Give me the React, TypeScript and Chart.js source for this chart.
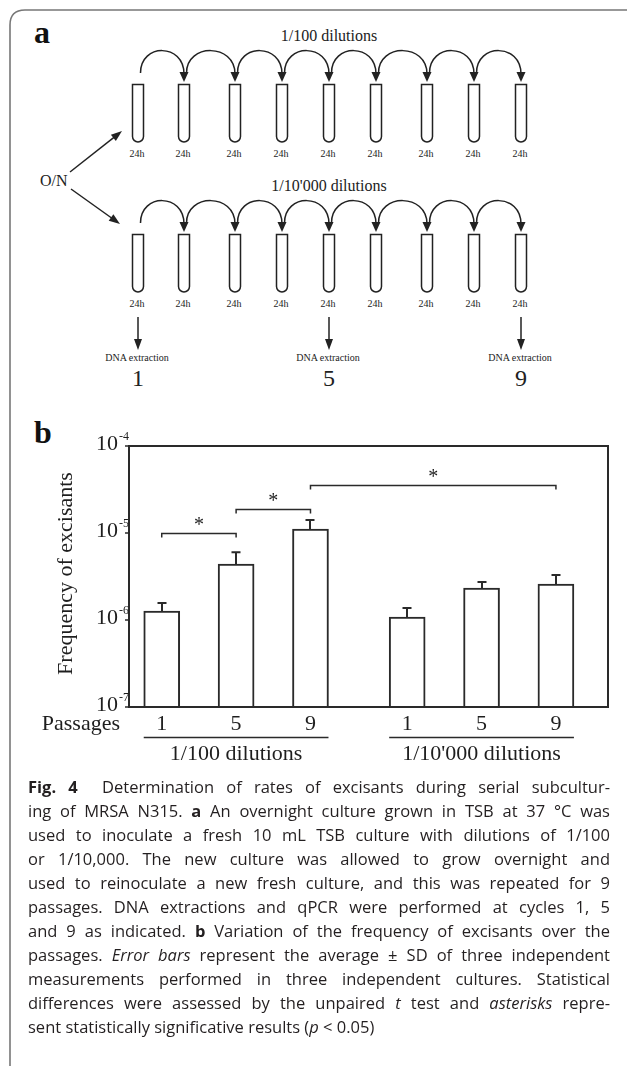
import React, { useEffect, useRef } from 'react';
import { Chart, registerables } from 'chart.js';

Chart.register(...registerables);

// ---------- data (panel b) ----------
const groups = ['1/100 dilutions', "1/10'000 dilutions"];
const passages = ['1', '5', '9'];
const meanFreq = [1.27e-6, 4.4e-6, 1.11e-5, 1.08e-6, 2.33e-6, 2.59e-6];
const sdFreq = [0.3e-6, 1.6e-6, 0.3e-5, 0.29e-6, 0.4e-6, 0.7e-6];
const yTickExponents = [-4, -5, -6, -7];
const sigFrom = [0, 1, 2];
const sigTo = [1, 2, 5];
const sigLevel = [1.0e-5, 1.89e-5, 3.56e-5];

// ---------- diagram (panel a) ----------
const rowLabels = ['1/100 dilutions', "1/10'000 dilutions"];
const tubeLabel = '24h';
const extractionCycles = ['1', '5', '9'];
const extractionTubes = [0, 4, 8];

const GROUP_GAP = 0.3;
const xOf = (i: number) => {
  const g = Math.floor(i / passages.length);
  const p = i % passages.length;
  return g * (passages.length + GROUP_GAP) + p + 1;
};

const INK = '#2a2a2a';
const SERIF = '"Liberation Serif", "Times New Roman", serif';

const decorPlugin = {
  id: 'figDecor',
  afterDatasetsDraw(chart: any) {
    const { ctx, chartArea: a, scales } = chart;
    const x = scales.x;
    const y = scales.y;
    ctx.save();
    ctx.strokeStyle = INK;
    ctx.fillStyle = '#1e1e1e';

    // error bars
    ctx.lineWidth = 2;
    meanFreq.forEach((m, i) => {
      const px = Math.round(x.getPixelForValue(xOf(i)));
      const y0 = y.getPixelForValue(m);
      const y1 = y.getPixelForValue(m + sdFreq[i]);
      ctx.beginPath();
      ctx.moveTo(px, y0);
      ctx.lineTo(px, y1);
      ctx.moveTo(px - 4.5, y1);
      ctx.lineTo(px + 4.5, y1);
      ctx.stroke();
    });

    // plot box
    ctx.lineWidth = 2;
    ctx.strokeRect(a.left, a.top, a.right - a.left, a.bottom - a.top);

    // y ticks + labels
    yTickExponents.forEach((e) => {
      const py = y.getPixelForValue(Math.pow(10, e));
      ctx.lineWidth = 1.5;
      ctx.beginPath();
      ctx.moveTo(a.left - 4, py);
      ctx.lineTo(a.left, py);
      ctx.stroke();
      ctx.font = `22px ${SERIF}`;
      ctx.textAlign = 'right';
      ctx.textBaseline = 'alphabetic';
      ctx.fillText('10', a.left - 11, py + 4);
      ctx.font = `12px ${SERIF}`;
      ctx.textAlign = 'left';
      ctx.fillText(String(e), a.left - 10, py - 6);
    });

    // y title
    ctx.save();
    ctx.translate(66, (a.top + a.bottom) / 2 - 3);
    ctx.rotate(-Math.PI / 2);
    ctx.font = `22px ${SERIF}`;
    ctx.textAlign = 'center';
    ctx.textBaseline = 'middle';
    ctx.fillText('Frequency of excisants', 0, 0);
    ctx.restore();

    // significance brackets
    ctx.lineWidth = 1.5;
    sigFrom.forEach((f, k) => {
      const x1 = x.getPixelForValue(xOf(f));
      const x2 = x.getPixelForValue(xOf(sigTo[k]));
      const yy = Math.round(y.getPixelForValue(sigLevel[k])) + 0.5;
      ctx.beginPath();
      ctx.moveTo(x1, yy + 4);
      ctx.lineTo(x1, yy);
      ctx.lineTo(x2, yy);
      ctx.lineTo(x2, yy + 4);
      ctx.stroke();
      ctx.font = `20px ${SERIF}`;
      ctx.textAlign = 'center';
      ctx.textBaseline = 'middle';
      ctx.fillText('*', (x1 + x2) / 2, yy - 8);
    });

    // x labels
    const labY = a.bottom + 23;
    ctx.font = `22px ${SERIF}`;
    ctx.textBaseline = 'alphabetic';
    ctx.textAlign = 'right';
    ctx.fillText('Passages', a.left - 9, labY);
    ctx.textAlign = 'center';
    meanFreq.forEach((_, i) => {
      const px = x.getPixelForValue(xOf(i));
      ctx.fillText(passages[i % passages.length], px, labY);
    });
    const half = 18;
    groups.forEach((g, gi) => {
      const first = gi * passages.length;
      const last = first + passages.length - 1;
      const xl = x.getPixelForValue(xOf(first)) - half;
      const xr = x.getPixelForValue(xOf(last)) + half;
      const xm = x.getPixelForValue(xOf(first + 1));
      ctx.lineWidth = 1.5;
      ctx.beginPath();
      ctx.moveTo(xl, a.bottom + 30.5);
      ctx.lineTo(xr, a.bottom + 30.5);
      ctx.stroke();
      ctx.fillText(g, xm, a.bottom + 53);
    });

    ctx.restore();
  },
};

function BarChart() {
  const ref = useRef<HTMLCanvasElement | null>(null);
  useEffect(() => {
    if (!ref.current) return;
    const chart = new Chart(ref.current, {
      type: 'bar',
      data: {
        datasets: [
          {
            data: meanFreq.map((v, i) => ({ x: xOf(i), y: v })),
            backgroundColor: '#ffffff',
            borderColor: INK,
            borderWidth: 2,
            barThickness: 36,
          } as any,
        ],
      },
      options: {
        animation: false,
        responsive: false,
        devicePixelRatio: 1,
        layout: { padding: { left: 129, right: 19, top: 46, bottom: 73 } },
        plugins: { legend: { display: false }, tooltip: { enabled: false }, title: { display: false } },
        scales: {
          x: { type: 'linear', min: 0.56, max: 7.0, display: false, offset: false },
          y: { type: 'logarithmic', min: 1e-7, max: 1e-4, display: false },
        },
      },
      plugins: [decorPlugin],
    });
    return () => chart.destroy();
  }, []);
  return (
    <canvas
      ref={ref}
      width={627}
      height={380}
      style={{ position: 'absolute', left: 0, top: 400, width: 627, height: 380 }}
    />
  );
}

const TUBE_X = [138, 184, 235, 282, 329, 376, 427, 474, 521];
const ROW_DY = [0, 150];

function arrowHead(x1: number, y1: number, x2: number, y2: number, len = 10, hw = 3.8) {
  const dx = x2 - x1;
  const dy = y2 - y1;
  const L = Math.hypot(dx, dy);
  const ux = dx / L;
  const uy = dy / L;
  const bx = x2 - ux * len;
  const by = y2 - uy * len;
  return `${x2},${y2} ${bx - uy * hw},${by + ux * hw} ${bx + uy * hw},${by - ux * hw}`;
}

function Diagram() {
  const stroke = '#222';
  const els: React.ReactNode[] = [];
  ROW_DY.forEach((dy, r) => {
    els.push(
      <text key={`rl${r}`} x={329} y={41 + dy} textAnchor="middle" fontSize={16} fontFamily={SERIF} fill="#222">
        {rowLabels[r]}
      </text>
    );
    TUBE_X.forEach((tx, i) => {
      els.push(
        <path
          key={`t${r}-${i}`}
          d={`M ${tx - 5.5} ${84.5 + dy} V ${136.5 + dy} A 5.5 5.5 0 0 0 ${tx + 5.5} ${136.5 + dy} V ${84.5 + dy} Z`}
          fill="#fff"
          stroke={stroke}
          strokeWidth={1.5}
        />
      );
      els.push(
        <text key={`h${r}-${i}`} x={tx - 1} y={157 + dy} textAnchor="middle" fontSize={10} fontFamily={SERIF} fill="#222">
          {tubeLabel}
        </text>
      );
      if (i < TUBE_X.length - 1) {
        const sx = tx + 2.5;
        const ex = TUBE_X[i + 1];
        els.push(
          <path
            key={`a${r}-${i}`}
            d={`M ${sx} ${73 + dy} C ${sx} ${43 + dy} ${ex} ${43 + dy} ${ex} ${74 + dy}`}
            fill="none"
            stroke={stroke}
            strokeWidth={1.5}
          />
        );
        els.push(
          <polygon key={`ah${r}-${i}`} points={`${ex - 4.5},${72 + dy} ${ex + 4.5},${72 + dy} ${ex},${82 + dy}`} fill={stroke} />
        );
      }
    });
  });
  // O/N arrows
  const on = [
    [70, 172, 122, 131],
    [71, 189, 120, 224],
  ];
  on.forEach(([x1, y1, x2, y2], k) => {
    els.push(<line key={`on${k}`} x1={x1} y1={y1} x2={x2 - (x2 - x1) * 0.1} y2={y2 - (y2 - y1) * 0.1} stroke={stroke} strokeWidth={1.5} />);
    els.push(<polygon key={`onh${k}`} points={arrowHead(x1, y1, x2, y2, 11, 4)} fill={stroke} />);
  });
  els.push(
    <text key="on" x={40} y={186} fontSize={16} fontFamily={SERIF} fill="#222">
      O/N
    </text>
  );
  extractionTubes.forEach((ti, k) => {
    const tx = TUBE_X[ti];
    els.push(<line key={`dl${k}`} x1={tx} y1={317} x2={tx} y2={341} stroke={stroke} strokeWidth={1.5} />);
    els.push(<polygon key={`dh${k}`} points={arrowHead(tx, 317, tx, 350, 11, 4)} fill={stroke} />);
    els.push(
      <text key={`dt${k}`} x={tx - 1} y={361} textAnchor="middle" fontSize={10} fontFamily={SERIF} fill="#222">
        DNA extraction
      </text>
    );
    els.push(
      <text key={`dn${k}`} x={tx} y={386} textAnchor="middle" fontSize={24} fontFamily={SERIF} fill="#222">
        {extractionCycles[k]}
      </text>
    );
  });
  return <>{els}</>;
}

const captionLines: React.ReactNode[] = [
  <><b>Fig. 4</b>&nbsp; Determination of rates of excisants during serial subcultur-</>,
  <>ing of MRSA N315. <b>a</b> An overnight culture grown in TSB at 37 °C was</>,
  <>used to inoculate a fresh 10 mL TSB culture with dilutions of 1/100</>,
  <>or 1/10,000. The new culture was allowed to grow overnight and</>,
  <>used to reinoculate a new fresh culture, and this was repeated for 9</>,
  <>passages. DNA extractions and qPCR were performed at cycles 1, 5</>,
  <>and 9 as indicated. <b>b</b> Variation of the frequency of excisants over the</>,
  <>passages. <i>Error bars</i> represent the average ± SD of three independent</>,
  <>measurements performed in three independent cultures. Statistical</>,
  <>differences were assessed by the unpaired <i>t</i> test and <i>asterisks</i> repre-</>,
  <>sent statistically significative results (<i>p</i> &lt; 0.05)</>,
];

export default function App() {
  return (
    <div style={{ position: 'absolute', left: 0, top: 0, width: 627, height: 1066, background: '#fff', overflow: 'hidden' }}>
      <svg width={627} height={1066} style={{ position: 'absolute', left: 0, top: 0 }}>
        <path d="M 10 1066 V 25 Q 10 10 25 10 H 627" fill="none" stroke="#777" strokeWidth={1.6} />
        <text x={34} y={43} fontSize={32} fontWeight="bold" fontFamily={SERIF} fill="#111">a</text>
        <text x={34} y={443} fontSize={32} fontWeight="bold" fontFamily={SERIF} fill="#111">b</text>
        <Diagram />
      </svg>
      <BarChart />
      <div
        style={{
          position: 'absolute',
          left: 28,
          top: 775,
          width: 582,
          fontFamily: '"Open Sans", "Noto Sans", sans-serif',
          fontSize: 16.5,
          lineHeight: '24px',
          color: '#231f20',
        }}
      >
        {captionLines.map((ln, i) => (
          <div
            key={i}
            style={{
              textAlign: i < captionLines.length - 1 ? 'justify' : 'left',
              textAlignLast: i < captionLines.length - 1 ? 'justify' : 'left',
              whiteSpace: 'normal',
            } as any}
          >
            {ln}
          </div>
        ))}
      </div>
    </div>
  );
}
